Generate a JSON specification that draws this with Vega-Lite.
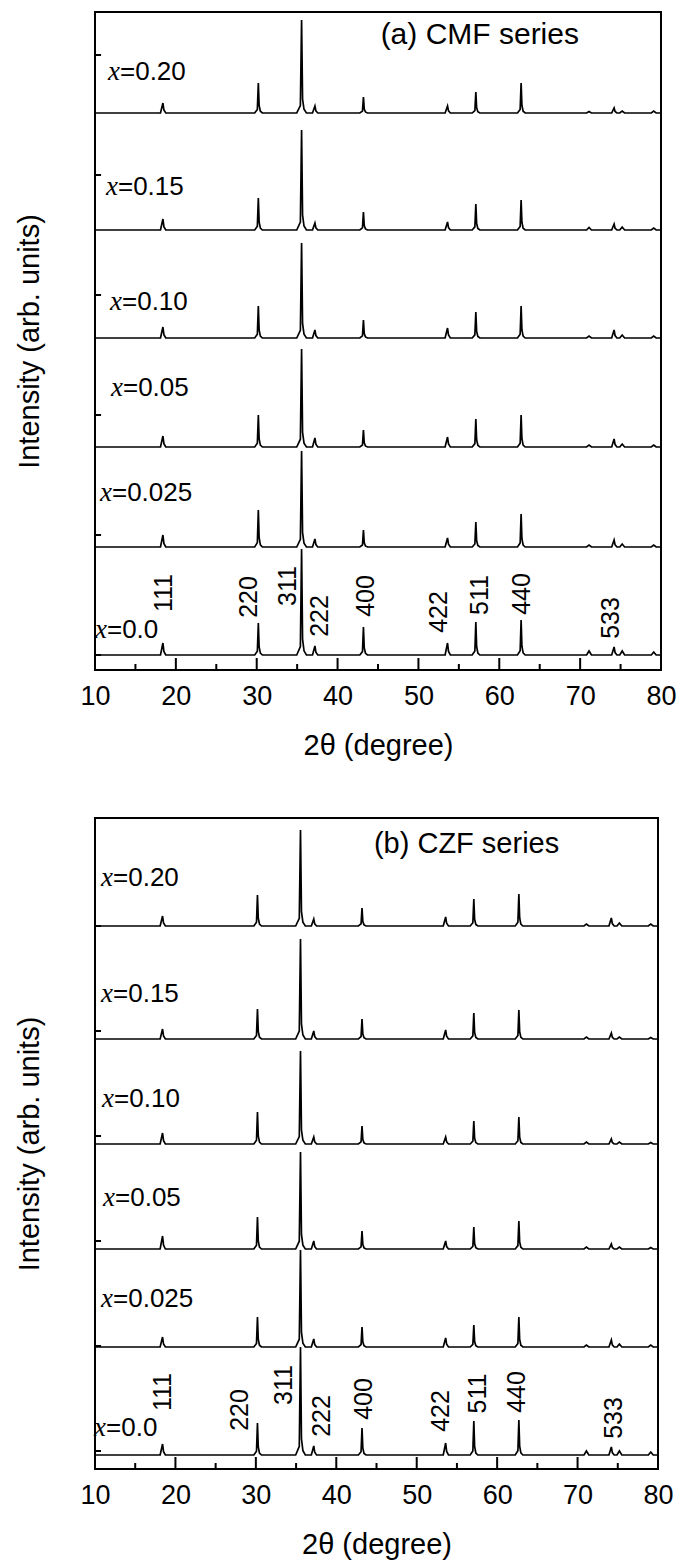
{
"$schema":"https://vega.github.io/schema/vega-lite/v6.json",
"background":"white",
"padding":{"left":14,"top":11,"right":10,"bottom":4},
"spacing":56,
"datasets":{
"a":[
{"s":"0.20","t":10,"I":557},{"s":"0.20","t":18.1,"I":557},{"s":"0.20","t":18.4,"I":567},{"s":"0.20","t":18.52,"I":560},{"s":"0.20","t":18.75,"I":557},{"s":"0.20","t":29.75,"I":557},{"s":"0.20","t":30.08,"I":560.6},{"s":"0.20","t":30.2,"I":587},{"s":"0.20","t":30.3,"I":564.5},{"s":"0.20","t":30.45,"I":558.8},{"s":"0.20","t":30.7,"I":557},{"s":"0.20","t":34.95,"I":557},{"s":"0.20","t":35.4,"I":564.4},{"s":"0.20","t":35.55,"I":650},{"s":"0.20","t":35.67,"I":571},{"s":"0.20","t":35.85,"I":560.7},{"s":"0.20","t":36.15,"I":557},{"s":"0.20","t":36.9,"I":557},{"s":"0.20","t":37.2,"I":564},{"s":"0.20","t":37.32,"I":559.1},{"s":"0.20","t":37.55,"I":557},{"s":"0.20","t":42.75,"I":557},{"s":"0.20","t":43.08,"I":558.9},{"s":"0.20","t":43.2,"I":573},{"s":"0.20","t":43.3,"I":561},{"s":"0.20","t":43.45,"I":558},{"s":"0.20","t":43.7,"I":557},{"s":"0.20","t":53.3,"I":557},{"s":"0.20","t":53.6,"I":564},{"s":"0.20","t":53.72,"I":559.1},{"s":"0.20","t":53.95,"I":557},{"s":"0.20","t":56.65,"I":557},{"s":"0.20","t":56.98,"I":559.5},{"s":"0.20","t":57.1,"I":578},{"s":"0.20","t":57.2,"I":562.3},{"s":"0.20","t":57.35,"I":558.3},{"s":"0.20","t":57.6,"I":557},{"s":"0.20","t":62.25,"I":557},{"s":"0.20","t":62.58,"I":560.6},{"s":"0.20","t":62.7,"I":587},{"s":"0.20","t":62.8,"I":564.5},{"s":"0.20","t":62.95,"I":558.8},{"s":"0.20","t":63.2,"I":557},{"s":"0.20","t":70.8,"I":557},{"s":"0.20","t":71.1,"I":558.5},{"s":"0.20","t":71.4,"I":557},{"s":"0.20","t":73.9,"I":557},{"s":"0.20","t":74.2,"I":562},{"s":"0.20","t":74.32,"I":558.5},{"s":"0.20","t":74.55,"I":557},{"s":"0.20","t":74.9,"I":557},{"s":"0.20","t":75.2,"I":559},{"s":"0.20","t":75.5,"I":557},{"s":"0.20","t":78.8,"I":557},{"s":"0.20","t":79.1,"I":559},{"s":"0.20","t":79.4,"I":557},{"s":"0.20","t":80,"I":557},
{"s":"0.15","t":10,"I":440},{"s":"0.15","t":18.1,"I":440},{"s":"0.15","t":18.4,"I":451},{"s":"0.15","t":18.52,"I":443.3},{"s":"0.15","t":18.75,"I":440},{"s":"0.15","t":29.75,"I":440},{"s":"0.15","t":30.08,"I":443.8},{"s":"0.15","t":30.2,"I":472},{"s":"0.15","t":30.3,"I":448},{"s":"0.15","t":30.45,"I":441.9},{"s":"0.15","t":30.7,"I":440},{"s":"0.15","t":34.95,"I":440},{"s":"0.15","t":35.4,"I":448},{"s":"0.15","t":35.55,"I":540},{"s":"0.15","t":35.67,"I":455},{"s":"0.15","t":35.85,"I":444},{"s":"0.15","t":36.15,"I":440},{"s":"0.15","t":36.9,"I":440},{"s":"0.15","t":37.2,"I":447},{"s":"0.15","t":37.32,"I":442.1},{"s":"0.15","t":37.55,"I":440},{"s":"0.15","t":42.75,"I":440},{"s":"0.15","t":43.08,"I":442.2},{"s":"0.15","t":43.2,"I":458},{"s":"0.15","t":43.3,"I":444.5},{"s":"0.15","t":43.45,"I":441.1},{"s":"0.15","t":43.7,"I":440},{"s":"0.15","t":53.3,"I":440},{"s":"0.15","t":53.6,"I":448},{"s":"0.15","t":53.72,"I":442.4},{"s":"0.15","t":53.95,"I":440},{"s":"0.15","t":56.65,"I":440},{"s":"0.15","t":56.98,"I":443.1},{"s":"0.15","t":57.1,"I":466},{"s":"0.15","t":57.2,"I":446.5},{"s":"0.15","t":57.35,"I":441.6},{"s":"0.15","t":57.6,"I":440},{"s":"0.15","t":62.25,"I":440},{"s":"0.15","t":62.58,"I":443.6},{"s":"0.15","t":62.7,"I":470},{"s":"0.15","t":62.8,"I":447.5},{"s":"0.15","t":62.95,"I":441.8},{"s":"0.15","t":63.2,"I":440},{"s":"0.15","t":70.8,"I":440},{"s":"0.15","t":71.1,"I":442.5},{"s":"0.15","t":71.4,"I":440},{"s":"0.15","t":73.9,"I":440},{"s":"0.15","t":74.2,"I":446},{"s":"0.15","t":74.32,"I":441.8},{"s":"0.15","t":74.55,"I":440},{"s":"0.15","t":74.9,"I":440},{"s":"0.15","t":75.2,"I":443},{"s":"0.15","t":75.5,"I":440},{"s":"0.15","t":78.8,"I":440},{"s":"0.15","t":79.1,"I":442},{"s":"0.15","t":79.4,"I":440},{"s":"0.15","t":80,"I":440},
{"s":"0.10","t":10,"I":332},{"s":"0.10","t":18.1,"I":332},{"s":"0.10","t":18.4,"I":343},{"s":"0.10","t":18.52,"I":335.3},{"s":"0.10","t":18.75,"I":332},{"s":"0.10","t":29.75,"I":332},{"s":"0.10","t":30.08,"I":335.8},{"s":"0.10","t":30.2,"I":364},{"s":"0.10","t":30.3,"I":340},{"s":"0.10","t":30.45,"I":333.9},{"s":"0.10","t":30.7,"I":332},{"s":"0.10","t":34.95,"I":332},{"s":"0.10","t":35.4,"I":339.6},{"s":"0.10","t":35.55,"I":427},{"s":"0.10","t":35.67,"I":346.3},{"s":"0.10","t":35.85,"I":335.8},{"s":"0.10","t":36.15,"I":332},{"s":"0.10","t":36.9,"I":332},{"s":"0.10","t":37.2,"I":340},{"s":"0.10","t":37.32,"I":334.4},{"s":"0.10","t":37.55,"I":332},{"s":"0.10","t":42.75,"I":332},{"s":"0.10","t":43.08,"I":334.2},{"s":"0.10","t":43.2,"I":350},{"s":"0.10","t":43.3,"I":336.5},{"s":"0.10","t":43.45,"I":333.1},{"s":"0.10","t":43.7,"I":332},{"s":"0.10","t":53.3,"I":332},{"s":"0.10","t":53.6,"I":342},{"s":"0.10","t":53.72,"I":335},{"s":"0.10","t":53.95,"I":332},{"s":"0.10","t":56.65,"I":332},{"s":"0.10","t":56.98,"I":335.1},{"s":"0.10","t":57.1,"I":358},{"s":"0.10","t":57.2,"I":338.5},{"s":"0.10","t":57.35,"I":333.6},{"s":"0.10","t":57.6,"I":332},{"s":"0.10","t":62.25,"I":332},{"s":"0.10","t":62.58,"I":335.8},{"s":"0.10","t":62.7,"I":364},{"s":"0.10","t":62.8,"I":340},{"s":"0.10","t":62.95,"I":333.9},{"s":"0.10","t":63.2,"I":332},{"s":"0.10","t":70.8,"I":332},{"s":"0.10","t":71.1,"I":334},{"s":"0.10","t":71.4,"I":332},{"s":"0.10","t":73.9,"I":332},{"s":"0.10","t":74.2,"I":340},{"s":"0.10","t":74.32,"I":334.4},{"s":"0.10","t":74.55,"I":332},{"s":"0.10","t":74.9,"I":332},{"s":"0.10","t":75.2,"I":335},{"s":"0.10","t":75.5,"I":332},{"s":"0.10","t":78.8,"I":332},{"s":"0.10","t":79.1,"I":334},{"s":"0.10","t":79.4,"I":332},{"s":"0.10","t":80,"I":332},
{"s":"0.05","t":10,"I":223},{"s":"0.05","t":18.1,"I":223},{"s":"0.05","t":18.4,"I":234},{"s":"0.05","t":18.52,"I":226.3},{"s":"0.05","t":18.75,"I":223},{"s":"0.05","t":29.75,"I":223},{"s":"0.05","t":30.08,"I":226.8},{"s":"0.05","t":30.2,"I":255},{"s":"0.05","t":30.3,"I":231},{"s":"0.05","t":30.45,"I":224.9},{"s":"0.05","t":30.7,"I":223},{"s":"0.05","t":34.95,"I":223},{"s":"0.05","t":35.4,"I":230.8},{"s":"0.05","t":35.55,"I":321},{"s":"0.05","t":35.67,"I":237.7},{"s":"0.05","t":35.85,"I":226.9},{"s":"0.05","t":36.15,"I":223},{"s":"0.05","t":36.9,"I":223},{"s":"0.05","t":37.2,"I":232},{"s":"0.05","t":37.32,"I":225.7},{"s":"0.05","t":37.55,"I":223},{"s":"0.05","t":42.75,"I":223},{"s":"0.05","t":43.08,"I":225},{"s":"0.05","t":43.2,"I":240},{"s":"0.05","t":43.3,"I":227.3},{"s":"0.05","t":43.45,"I":224},{"s":"0.05","t":43.7,"I":223},{"s":"0.05","t":53.3,"I":223},{"s":"0.05","t":53.6,"I":233},{"s":"0.05","t":53.72,"I":226},{"s":"0.05","t":53.95,"I":223},{"s":"0.05","t":56.65,"I":223},{"s":"0.05","t":56.98,"I":226.4},{"s":"0.05","t":57.1,"I":251},{"s":"0.05","t":57.2,"I":230},{"s":"0.05","t":57.35,"I":224.7},{"s":"0.05","t":57.6,"I":223},{"s":"0.05","t":62.25,"I":223},{"s":"0.05","t":62.58,"I":226.8},{"s":"0.05","t":62.7,"I":255},{"s":"0.05","t":62.8,"I":231},{"s":"0.05","t":62.95,"I":224.9},{"s":"0.05","t":63.2,"I":223},{"s":"0.05","t":70.8,"I":223},{"s":"0.05","t":71.1,"I":225},{"s":"0.05","t":71.4,"I":223},{"s":"0.05","t":73.9,"I":223},{"s":"0.05","t":74.2,"I":231},{"s":"0.05","t":74.32,"I":225.4},{"s":"0.05","t":74.55,"I":223},{"s":"0.05","t":74.9,"I":223},{"s":"0.05","t":75.2,"I":226},{"s":"0.05","t":75.5,"I":223},{"s":"0.05","t":78.8,"I":223},{"s":"0.05","t":79.1,"I":225},{"s":"0.05","t":79.4,"I":223},{"s":"0.05","t":80,"I":223},
{"s":"0.025","t":10,"I":123},{"s":"0.025","t":18.1,"I":123},{"s":"0.025","t":18.4,"I":135},{"s":"0.025","t":18.52,"I":126.6},{"s":"0.025","t":18.75,"I":123},{"s":"0.025","t":29.75,"I":123},{"s":"0.025","t":30.08,"I":127.4},{"s":"0.025","t":30.2,"I":160},{"s":"0.025","t":30.3,"I":132.3},{"s":"0.025","t":30.45,"I":125.2},{"s":"0.025","t":30.7,"I":123},{"s":"0.025","t":34.95,"I":123},{"s":"0.025","t":35.4,"I":130.7},{"s":"0.025","t":35.55,"I":219},{"s":"0.025","t":35.67,"I":137.4},{"s":"0.025","t":35.85,"I":126.8},{"s":"0.025","t":36.15,"I":123},{"s":"0.025","t":36.9,"I":123},{"s":"0.025","t":37.2,"I":131},{"s":"0.025","t":37.32,"I":125.4},{"s":"0.025","t":37.55,"I":123},{"s":"0.025","t":42.75,"I":123},{"s":"0.025","t":43.08,"I":125},{"s":"0.025","t":43.2,"I":140},{"s":"0.025","t":43.3,"I":127.3},{"s":"0.025","t":43.45,"I":124},{"s":"0.025","t":43.7,"I":123},{"s":"0.025","t":53.3,"I":123},{"s":"0.025","t":53.6,"I":132},{"s":"0.025","t":53.72,"I":125.7},{"s":"0.025","t":53.95,"I":123},{"s":"0.025","t":56.65,"I":123},{"s":"0.025","t":56.98,"I":126},{"s":"0.025","t":57.1,"I":148},{"s":"0.025","t":57.2,"I":129.3},{"s":"0.025","t":57.35,"I":124.5},{"s":"0.025","t":57.6,"I":123},{"s":"0.025","t":62.25,"I":123},{"s":"0.025","t":62.58,"I":127},{"s":"0.025","t":62.7,"I":156},{"s":"0.025","t":62.8,"I":131.3},{"s":"0.025","t":62.95,"I":125},{"s":"0.025","t":63.2,"I":123},{"s":"0.025","t":70.8,"I":123},{"s":"0.025","t":71.1,"I":125},{"s":"0.025","t":71.4,"I":123},{"s":"0.025","t":73.9,"I":123},{"s":"0.025","t":74.2,"I":130},{"s":"0.025","t":74.32,"I":125.1},{"s":"0.025","t":74.55,"I":123},{"s":"0.025","t":74.9,"I":123},{"s":"0.025","t":75.2,"I":126},{"s":"0.025","t":75.5,"I":123},{"s":"0.025","t":78.8,"I":123},{"s":"0.025","t":79.1,"I":125},{"s":"0.025","t":79.4,"I":123},{"s":"0.025","t":80,"I":123},
{"s":"0.0","t":10,"I":15},{"s":"0.0","t":18.1,"I":15},{"s":"0.0","t":18.4,"I":27},{"s":"0.0","t":18.52,"I":18.6},{"s":"0.0","t":18.75,"I":15},{"s":"0.0","t":29.75,"I":15},{"s":"0.0","t":30.08,"I":18.8},{"s":"0.0","t":30.2,"I":47},{"s":"0.0","t":30.3,"I":23},{"s":"0.0","t":30.45,"I":16.9},{"s":"0.0","t":30.7,"I":15},{"s":"0.0","t":34.95,"I":15},{"s":"0.0","t":35.4,"I":23.5},{"s":"0.0","t":35.55,"I":121},{"s":"0.0","t":35.67,"I":30.9},{"s":"0.0","t":35.85,"I":19.2},{"s":"0.0","t":36.15,"I":15},{"s":"0.0","t":36.9,"I":15},{"s":"0.0","t":37.2,"I":24},{"s":"0.0","t":37.32,"I":17.7},{"s":"0.0","t":37.55,"I":15},{"s":"0.0","t":42.75,"I":15},{"s":"0.0","t":43.08,"I":18.4},{"s":"0.0","t":43.2,"I":43},{"s":"0.0","t":43.3,"I":22},{"s":"0.0","t":43.45,"I":16.7},{"s":"0.0","t":43.7,"I":15},{"s":"0.0","t":53.3,"I":15},{"s":"0.0","t":53.6,"I":27},{"s":"0.0","t":53.72,"I":18.6},{"s":"0.0","t":53.95,"I":15},{"s":"0.0","t":56.65,"I":15},{"s":"0.0","t":56.98,"I":19},{"s":"0.0","t":57.1,"I":48},{"s":"0.0","t":57.2,"I":23.3},{"s":"0.0","t":57.35,"I":17},{"s":"0.0","t":57.6,"I":15},{"s":"0.0","t":62.25,"I":15},{"s":"0.0","t":62.58,"I":19.2},{"s":"0.0","t":62.7,"I":50},{"s":"0.0","t":62.8,"I":23.8},{"s":"0.0","t":62.95,"I":17.1},{"s":"0.0","t":63.2,"I":15},{"s":"0.0","t":70.8,"I":15},{"s":"0.0","t":71.1,"I":19},{"s":"0.0","t":71.4,"I":15},{"s":"0.0","t":73.9,"I":15},{"s":"0.0","t":74.2,"I":23},{"s":"0.0","t":74.32,"I":17.4},{"s":"0.0","t":74.55,"I":15},{"s":"0.0","t":74.9,"I":15},{"s":"0.0","t":75.2,"I":19},{"s":"0.0","t":75.5,"I":15},{"s":"0.0","t":78.8,"I":15},{"s":"0.0","t":79.1,"I":18},{"s":"0.0","t":79.4,"I":15},{"s":"0.0","t":80,"I":15}
],
"b":[
{"s":"0.20","t":10,"I":543},{"s":"0.20","t":18.1,"I":543},{"s":"0.20","t":18.4,"I":553},{"s":"0.20","t":18.52,"I":546},{"s":"0.20","t":18.75,"I":543},{"s":"0.20","t":29.75,"I":543},{"s":"0.20","t":30.08,"I":546.7},{"s":"0.20","t":30.2,"I":574},{"s":"0.20","t":30.3,"I":550.8},{"s":"0.20","t":30.45,"I":544.9},{"s":"0.20","t":30.7,"I":543},{"s":"0.20","t":34.95,"I":543},{"s":"0.20","t":35.4,"I":550.7},{"s":"0.20","t":35.55,"I":639},{"s":"0.20","t":35.67,"I":557.4},{"s":"0.20","t":35.85,"I":546.8},{"s":"0.20","t":36.15,"I":543},{"s":"0.20","t":36.9,"I":543},{"s":"0.20","t":37.2,"I":550},{"s":"0.20","t":37.32,"I":545.1},{"s":"0.20","t":37.55,"I":543},{"s":"0.20","t":42.75,"I":543},{"s":"0.20","t":43.08,"I":545.2},{"s":"0.20","t":43.2,"I":561},{"s":"0.20","t":43.3,"I":547.5},{"s":"0.20","t":43.45,"I":544.1},{"s":"0.20","t":43.7,"I":543},{"s":"0.20","t":53.3,"I":543},{"s":"0.20","t":53.6,"I":552},{"s":"0.20","t":53.72,"I":545.7},{"s":"0.20","t":53.95,"I":543},{"s":"0.20","t":56.65,"I":543},{"s":"0.20","t":56.98,"I":546.2},{"s":"0.20","t":57.1,"I":570},{"s":"0.20","t":57.2,"I":549.8},{"s":"0.20","t":57.35,"I":544.6},{"s":"0.20","t":57.6,"I":543},{"s":"0.20","t":62.25,"I":543},{"s":"0.20","t":62.58,"I":546.8},{"s":"0.20","t":62.7,"I":575},{"s":"0.20","t":62.8,"I":551},{"s":"0.20","t":62.95,"I":544.9},{"s":"0.20","t":63.2,"I":543},{"s":"0.20","t":70.8,"I":543},{"s":"0.20","t":71.1,"I":545},{"s":"0.20","t":71.4,"I":543},{"s":"0.20","t":73.9,"I":543},{"s":"0.20","t":74.2,"I":551},{"s":"0.20","t":74.32,"I":545.4},{"s":"0.20","t":74.55,"I":543},{"s":"0.20","t":74.9,"I":543},{"s":"0.20","t":75.2,"I":546},{"s":"0.20","t":75.5,"I":543},{"s":"0.20","t":78.8,"I":543},{"s":"0.20","t":79.1,"I":545},{"s":"0.20","t":79.4,"I":543},{"s":"0.20","t":80,"I":543},
{"s":"0.15","t":10,"I":430},{"s":"0.15","t":18.1,"I":430},{"s":"0.15","t":18.4,"I":440},{"s":"0.15","t":18.52,"I":433},{"s":"0.15","t":18.75,"I":430},{"s":"0.15","t":29.75,"I":430},{"s":"0.15","t":30.08,"I":433.6},{"s":"0.15","t":30.2,"I":460},{"s":"0.15","t":30.3,"I":437.5},{"s":"0.15","t":30.45,"I":431.8},{"s":"0.15","t":30.7,"I":430},{"s":"0.15","t":34.95,"I":430},{"s":"0.15","t":35.4,"I":438},{"s":"0.15","t":35.55,"I":530},{"s":"0.15","t":35.67,"I":445},{"s":"0.15","t":35.85,"I":434},{"s":"0.15","t":36.15,"I":430},{"s":"0.15","t":36.9,"I":430},{"s":"0.15","t":37.2,"I":438},{"s":"0.15","t":37.32,"I":432.4},{"s":"0.15","t":37.55,"I":430},{"s":"0.15","t":42.75,"I":430},{"s":"0.15","t":43.08,"I":432.4},{"s":"0.15","t":43.2,"I":450},{"s":"0.15","t":43.3,"I":435},{"s":"0.15","t":43.45,"I":431.2},{"s":"0.15","t":43.7,"I":430},{"s":"0.15","t":53.3,"I":430},{"s":"0.15","t":53.6,"I":439},{"s":"0.15","t":53.72,"I":432.7},{"s":"0.15","t":53.95,"I":430},{"s":"0.15","t":56.65,"I":430},{"s":"0.15","t":56.98,"I":433.1},{"s":"0.15","t":57.1,"I":456},{"s":"0.15","t":57.2,"I":436.5},{"s":"0.15","t":57.35,"I":431.6},{"s":"0.15","t":57.6,"I":430},{"s":"0.15","t":62.25,"I":430},{"s":"0.15","t":62.58,"I":433.5},{"s":"0.15","t":62.7,"I":459},{"s":"0.15","t":62.8,"I":437.3},{"s":"0.15","t":62.95,"I":431.7},{"s":"0.15","t":63.2,"I":430},{"s":"0.15","t":70.8,"I":430},{"s":"0.15","t":71.1,"I":432},{"s":"0.15","t":71.4,"I":430},{"s":"0.15","t":73.9,"I":430},{"s":"0.15","t":74.2,"I":436},{"s":"0.15","t":74.32,"I":431.8},{"s":"0.15","t":74.55,"I":430},{"s":"0.15","t":74.9,"I":430},{"s":"0.15","t":75.2,"I":432},{"s":"0.15","t":75.5,"I":430},{"s":"0.15","t":78.8,"I":430},{"s":"0.15","t":79.1,"I":431.5},{"s":"0.15","t":79.4,"I":430},{"s":"0.15","t":80,"I":430},
{"s":"0.10","t":10,"I":325},{"s":"0.10","t":18.1,"I":325},{"s":"0.10","t":18.4,"I":336},{"s":"0.10","t":18.52,"I":328.3},{"s":"0.10","t":18.75,"I":325},{"s":"0.10","t":29.75,"I":325},{"s":"0.10","t":30.08,"I":328.8},{"s":"0.10","t":30.2,"I":357},{"s":"0.10","t":30.3,"I":333},{"s":"0.10","t":30.45,"I":326.9},{"s":"0.10","t":30.7,"I":325},{"s":"0.10","t":34.95,"I":325},{"s":"0.10","t":35.4,"I":332.4},{"s":"0.10","t":35.55,"I":418},{"s":"0.10","t":35.67,"I":339},{"s":"0.10","t":35.85,"I":328.7},{"s":"0.10","t":36.15,"I":325},{"s":"0.10","t":36.9,"I":325},{"s":"0.10","t":37.2,"I":332},{"s":"0.10","t":37.32,"I":327.1},{"s":"0.10","t":37.55,"I":325},{"s":"0.10","t":42.75,"I":325},{"s":"0.10","t":43.08,"I":327.2},{"s":"0.10","t":43.2,"I":343},{"s":"0.10","t":43.3,"I":329.5},{"s":"0.10","t":43.45,"I":326.1},{"s":"0.10","t":43.7,"I":325},{"s":"0.10","t":53.3,"I":325},{"s":"0.10","t":53.6,"I":332},{"s":"0.10","t":53.72,"I":327.1},{"s":"0.10","t":53.95,"I":325},{"s":"0.10","t":56.65,"I":325},{"s":"0.10","t":56.98,"I":327.8},{"s":"0.10","t":57.1,"I":348},{"s":"0.10","t":57.2,"I":330.8},{"s":"0.10","t":57.35,"I":326.4},{"s":"0.10","t":57.6,"I":325},{"s":"0.10","t":62.25,"I":325},{"s":"0.10","t":62.58,"I":328.2},{"s":"0.10","t":62.7,"I":352},{"s":"0.10","t":62.8,"I":331.8},{"s":"0.10","t":62.95,"I":326.6},{"s":"0.10","t":63.2,"I":325},{"s":"0.10","t":70.8,"I":325},{"s":"0.10","t":71.1,"I":327},{"s":"0.10","t":71.4,"I":325},{"s":"0.10","t":73.9,"I":325},{"s":"0.10","t":74.2,"I":330},{"s":"0.10","t":74.32,"I":326.5},{"s":"0.10","t":74.55,"I":325},{"s":"0.10","t":74.9,"I":325},{"s":"0.10","t":75.2,"I":327},{"s":"0.10","t":75.5,"I":325},{"s":"0.10","t":78.8,"I":325},{"s":"0.10","t":79.1,"I":326.5},{"s":"0.10","t":79.4,"I":325},{"s":"0.10","t":80,"I":325},
{"s":"0.05","t":10,"I":220},{"s":"0.05","t":18.1,"I":220},{"s":"0.05","t":18.4,"I":233},{"s":"0.05","t":18.52,"I":223.9},{"s":"0.05","t":18.75,"I":220},{"s":"0.05","t":29.75,"I":220},{"s":"0.05","t":30.08,"I":223.8},{"s":"0.05","t":30.2,"I":252},{"s":"0.05","t":30.3,"I":228},{"s":"0.05","t":30.45,"I":221.9},{"s":"0.05","t":30.7,"I":220},{"s":"0.05","t":34.95,"I":220},{"s":"0.05","t":35.4,"I":227.8},{"s":"0.05","t":35.55,"I":317},{"s":"0.05","t":35.67,"I":234.6},{"s":"0.05","t":35.85,"I":223.9},{"s":"0.05","t":36.15,"I":220},{"s":"0.05","t":36.9,"I":220},{"s":"0.05","t":37.2,"I":228},{"s":"0.05","t":37.32,"I":222.4},{"s":"0.05","t":37.55,"I":220},{"s":"0.05","t":42.75,"I":220},{"s":"0.05","t":43.08,"I":222.2},{"s":"0.05","t":43.2,"I":238},{"s":"0.05","t":43.3,"I":224.5},{"s":"0.05","t":43.45,"I":221.1},{"s":"0.05","t":43.7,"I":220},{"s":"0.05","t":53.3,"I":220},{"s":"0.05","t":53.6,"I":228},{"s":"0.05","t":53.72,"I":222.4},{"s":"0.05","t":53.95,"I":220},{"s":"0.05","t":56.65,"I":220},{"s":"0.05","t":56.98,"I":222.6},{"s":"0.05","t":57.1,"I":242},{"s":"0.05","t":57.2,"I":225.5},{"s":"0.05","t":57.35,"I":221.3},{"s":"0.05","t":57.6,"I":220},{"s":"0.05","t":62.25,"I":220},{"s":"0.05","t":62.58,"I":223.4},{"s":"0.05","t":62.7,"I":248},{"s":"0.05","t":62.8,"I":227},{"s":"0.05","t":62.95,"I":221.7},{"s":"0.05","t":63.2,"I":220},{"s":"0.05","t":70.8,"I":220},{"s":"0.05","t":71.1,"I":222},{"s":"0.05","t":71.4,"I":220},{"s":"0.05","t":73.9,"I":220},{"s":"0.05","t":74.2,"I":225},{"s":"0.05","t":74.32,"I":221.5},{"s":"0.05","t":74.55,"I":220},{"s":"0.05","t":74.9,"I":220},{"s":"0.05","t":75.2,"I":222},{"s":"0.05","t":75.5,"I":220},{"s":"0.05","t":78.8,"I":220},{"s":"0.05","t":79.1,"I":221.5},{"s":"0.05","t":79.4,"I":220},{"s":"0.05","t":80,"I":220},
{"s":"0.025","t":10,"I":122},{"s":"0.025","t":18.1,"I":122},{"s":"0.025","t":18.4,"I":132},{"s":"0.025","t":18.52,"I":125},{"s":"0.025","t":18.75,"I":122},{"s":"0.025","t":29.75,"I":122},{"s":"0.025","t":30.08,"I":125.6},{"s":"0.025","t":30.2,"I":152},{"s":"0.025","t":30.3,"I":129.5},{"s":"0.025","t":30.45,"I":123.8},{"s":"0.025","t":30.7,"I":122},{"s":"0.025","t":34.95,"I":122},{"s":"0.025","t":35.4,"I":129.8},{"s":"0.025","t":35.55,"I":219},{"s":"0.025","t":35.67,"I":136.6},{"s":"0.025","t":35.85,"I":125.9},{"s":"0.025","t":36.15,"I":122},{"s":"0.025","t":36.9,"I":122},{"s":"0.025","t":37.2,"I":130},{"s":"0.025","t":37.32,"I":124.4},{"s":"0.025","t":37.55,"I":122},{"s":"0.025","t":42.75,"I":122},{"s":"0.025","t":43.08,"I":124.4},{"s":"0.025","t":43.2,"I":142},{"s":"0.025","t":43.3,"I":127},{"s":"0.025","t":43.45,"I":123.2},{"s":"0.025","t":43.7,"I":122},{"s":"0.025","t":53.3,"I":122},{"s":"0.025","t":53.6,"I":131},{"s":"0.025","t":53.72,"I":124.7},{"s":"0.025","t":53.95,"I":122},{"s":"0.025","t":56.65,"I":122},{"s":"0.025","t":56.98,"I":124.6},{"s":"0.025","t":57.1,"I":144},{"s":"0.025","t":57.2,"I":127.5},{"s":"0.025","t":57.35,"I":123.3},{"s":"0.025","t":57.6,"I":122},{"s":"0.025","t":62.25,"I":122},{"s":"0.025","t":62.58,"I":125.6},{"s":"0.025","t":62.7,"I":152},{"s":"0.025","t":62.8,"I":129.5},{"s":"0.025","t":62.95,"I":123.8},{"s":"0.025","t":63.2,"I":122},{"s":"0.025","t":70.8,"I":122},{"s":"0.025","t":71.1,"I":124},{"s":"0.025","t":71.4,"I":122},{"s":"0.025","t":73.9,"I":122},{"s":"0.025","t":74.2,"I":129},{"s":"0.025","t":74.32,"I":124.1},{"s":"0.025","t":74.55,"I":122},{"s":"0.025","t":74.9,"I":122},{"s":"0.025","t":75.2,"I":125},{"s":"0.025","t":75.5,"I":122},{"s":"0.025","t":78.8,"I":122},{"s":"0.025","t":79.1,"I":124},{"s":"0.025","t":79.4,"I":122},{"s":"0.025","t":80,"I":122},
{"s":"0.0","t":10,"I":14},{"s":"0.0","t":18.1,"I":14},{"s":"0.0","t":18.4,"I":25},{"s":"0.0","t":18.52,"I":17.3},{"s":"0.0","t":18.75,"I":14},{"s":"0.0","t":29.75,"I":14},{"s":"0.0","t":30.08,"I":17.8},{"s":"0.0","t":30.2,"I":46},{"s":"0.0","t":30.3,"I":22},{"s":"0.0","t":30.45,"I":15.9},{"s":"0.0","t":30.7,"I":14},{"s":"0.0","t":34.95,"I":14},{"s":"0.0","t":35.4,"I":22.6},{"s":"0.0","t":35.55,"I":122},{"s":"0.0","t":35.67,"I":30.2},{"s":"0.0","t":35.85,"I":18.3},{"s":"0.0","t":36.15,"I":14},{"s":"0.0","t":36.9,"I":14},{"s":"0.0","t":37.2,"I":23},{"s":"0.0","t":37.32,"I":16.7},{"s":"0.0","t":37.55,"I":14},{"s":"0.0","t":42.75,"I":14},{"s":"0.0","t":43.08,"I":17.2},{"s":"0.0","t":43.2,"I":41},{"s":"0.0","t":43.3,"I":20.8},{"s":"0.0","t":43.45,"I":15.6},{"s":"0.0","t":43.7,"I":14},{"s":"0.0","t":53.3,"I":14},{"s":"0.0","t":53.6,"I":26},{"s":"0.0","t":53.72,"I":17.6},{"s":"0.0","t":53.95,"I":14},{"s":"0.0","t":56.65,"I":14},{"s":"0.0","t":56.98,"I":18.1},{"s":"0.0","t":57.1,"I":48},{"s":"0.0","t":57.2,"I":22.5},{"s":"0.0","t":57.35,"I":16},{"s":"0.0","t":57.6,"I":14},{"s":"0.0","t":62.25,"I":14},{"s":"0.0","t":62.58,"I":18.2},{"s":"0.0","t":62.7,"I":49},{"s":"0.0","t":62.8,"I":22.8},{"s":"0.0","t":62.95,"I":16.1},{"s":"0.0","t":63.2,"I":14},{"s":"0.0","t":70.8,"I":14},{"s":"0.0","t":71.1,"I":18},{"s":"0.0","t":71.4,"I":14},{"s":"0.0","t":73.9,"I":14},{"s":"0.0","t":74.2,"I":22},{"s":"0.0","t":74.32,"I":16.4},{"s":"0.0","t":74.55,"I":14},{"s":"0.0","t":74.9,"I":14},{"s":"0.0","t":75.2,"I":18},{"s":"0.0","t":75.5,"I":14},{"s":"0.0","t":78.8,"I":14},{"s":"0.0","t":79.1,"I":17},{"s":"0.0","t":79.4,"I":14},{"s":"0.0","t":80,"I":14}
],
"labA":[{"t":13.09,"I":598,"v":"=0.20"},{"t":12.84,"I":483,"v":"=0.15"},{"t":13.34,"I":368,"v":"=0.10"},{"t":13.46,"I":282,"v":"=0.05"},{"t":12.1,"I":177,"v":"=0.025"},{"t":11.48,"I":40,"v":"=0.0"}],
"labB":[{"t":12.24,"I":591,"v":"=0.20"},{"t":12.24,"I":475,"v":"=0.15"},{"t":12.37,"I":370,"v":"=0.10"},{"t":12.49,"I":271,"v":"=0.05"},{"t":12.24,"I":170,"v":"=0.025"},{"t":11.37,"I":41,"v":"=0.0"}],
"hklA":[{"t":18.57,"I":77,"h":"111"},{"t":29.07,"I":73,"h":"220"},{"t":33.82,"I":84,"h":"311"},{"t":37.85,"I":54,"h":"222"},{"t":43.5,"I":74,"h":"400"},{"t":52.56,"I":58,"h":"422"},{"t":57.63,"I":75,"h":"511"},{"t":62.87,"I":76,"h":"440"},{"t":73.87,"I":52,"h":"533"}],
"hklB":[{"t":18.51,"I":77,"h":"111"},{"t":28.06,"I":59,"h":"220"},{"t":33.54,"I":84,"h":"311"},{"t":38.23,"I":53,"h":"222"},{"t":43.5,"I":70,"h":"400"},{"t":52.96,"I":58,"h":"422"},{"t":57.66,"I":75.5,"h":"511"},{"t":62.43,"I":77,"h":"440"},{"t":74.47,"I":51,"h":"533"}],
"ttlA":[{"t":57.59,"I":635,"txt":"(a) CMF series"}],
"ttlB":[{"t":56.2,"I":625,"txt":"(b) CZF series"}],
"xMaj":[{"t":20},{"t":30},{"t":40},{"t":50},{"t":60},{"t":70}],
"xMin":[{"t":15},{"t":25},{"t":35},{"t":45},{"t":55},{"t":65},{"t":75}],
"yTkA":[{"I":15},{"I":135},{"I":255},{"I":375},{"I":495},{"I":615}],
"yTkB":[{"I":18},{"I":123},{"I":228},{"I":333},{"I":438},{"I":543}]
},
"vconcat":[
{
"width":566,"height":658,
"layer":[
{"data":{"name":"a"},"mark":{"type":"line","color":"black","strokeWidth":1.7},
"encoding":{
"x":{"field":"t","type":"quantitative","scale":{"domain":[10,80],"nice":false,"zero":false},
"axis":{"values":[10,20,30,40,50,60,70,80],"ticks":false,"domain":false,"grid":false,"labelFontSize":27,"labelPadding":13,"labelFlush":false,"labelFont":"Liberation Sans","labelColor":"black","title":"2θ (degree)","titleFont":"Liberation Sans","titleFontSize":29,"titleFontWeight":"normal","titleColor":"black","titlePadding":22}},
"y":{"field":"I","type":"quantitative","scale":{"domain":[0,658],"nice":false,"zero":false},
"axis":{"ticks":false,"labels":false,"domain":false,"grid":false,"title":"Intensity (arb. units)","titleFont":"Liberation Sans","titleFontSize":29,"titleFontWeight":"normal","titleColor":"black","titlePadding":51}},
"detail":{"field":"s","type":"nominal"}}},
{"data":{"name":"xMaj"},"mark":{"type":"rule","color":"black","strokeWidth":2},
"encoding":{"x":{"field":"t","type":"quantitative"},"y":{"datum":0},"y2":{"datum":12}}},
{"data":{"name":"xMin"},"mark":{"type":"rule","color":"black","strokeWidth":2},
"encoding":{"x":{"field":"t","type":"quantitative"},"y":{"datum":0},"y2":{"datum":6}}},
{"data":{"name":"yTkA"},"mark":{"type":"rule","color":"black","strokeWidth":2},
"encoding":{"y":{"field":"I","type":"quantitative"},"x":{"datum":10},"x2":{"datum":10.75}}},
{"data":{"name":"labA"},"mark":{"type":"text","text":"x","font":"Liberation Serif","fontStyle":"italic","fontSize":27,"align":"right","baseline":"middle","color":"black"},
"encoding":{"x":{"field":"t","type":"quantitative"},"y":{"field":"I","type":"quantitative"}}},
{"data":{"name":"labA"},"mark":{"type":"text","font":"Liberation Sans","fontSize":26,"align":"left","baseline":"middle","color":"black"},
"encoding":{"x":{"field":"t","type":"quantitative"},"y":{"field":"I","type":"quantitative"},"text":{"field":"v"}}},
{"data":{"name":"hklA"},"mark":{"type":"text","font":"Liberation Sans","fontSize":25,"angle":270,"align":"center","baseline":"middle","color":"black"},
"encoding":{"x":{"field":"t","type":"quantitative"},"y":{"field":"I","type":"quantitative"},"text":{"field":"h"}}},
{"data":{"name":"ttlA"},"mark":{"type":"text","font":"Liberation Sans","fontSize":30,"align":"center","baseline":"middle","color":"black"},
"encoding":{"x":{"field":"t","type":"quantitative"},"y":{"field":"I","type":"quantitative"},"text":{"field":"txt"}}}
]
},
{
"width":563,"height":651,
"layer":[
{"data":{"name":"b"},"mark":{"type":"line","color":"black","strokeWidth":1.7},
"encoding":{
"x":{"field":"t","type":"quantitative","scale":{"domain":[10,80],"nice":false,"zero":false},
"axis":{"values":[10,20,30,40,50,60,70,80],"ticks":false,"domain":false,"grid":false,"labelFontSize":27,"labelPadding":13,"labelFlush":false,"labelFont":"Liberation Sans","labelColor":"black","title":"2θ (degree)","titleFont":"Liberation Sans","titleFontSize":29,"titleFontWeight":"normal","titleColor":"black","titlePadding":22}},
"y":{"field":"I","type":"quantitative","scale":{"domain":[0,651],"nice":false,"zero":false},
"axis":{"ticks":false,"labels":false,"domain":false,"grid":false,"title":"Intensity (arb. units)","titleFont":"Liberation Sans","titleFontSize":29,"titleFontWeight":"normal","titleColor":"black","titlePadding":51}},
"detail":{"field":"s","type":"nominal"}}},
{"data":{"name":"xMaj"},"mark":{"type":"rule","color":"black","strokeWidth":2},
"encoding":{"x":{"field":"t","type":"quantitative"},"y":{"datum":0},"y2":{"datum":12}}},
{"data":{"name":"xMin"},"mark":{"type":"rule","color":"black","strokeWidth":2},
"encoding":{"x":{"field":"t","type":"quantitative"},"y":{"datum":0},"y2":{"datum":6}}},
{"data":{"name":"yTkB"},"mark":{"type":"rule","color":"black","strokeWidth":2},
"encoding":{"y":{"field":"I","type":"quantitative"},"x":{"datum":10},"x2":{"datum":10.75}}},
{"data":{"name":"labB"},"mark":{"type":"text","text":"x","font":"Liberation Serif","fontStyle":"italic","fontSize":27,"align":"right","baseline":"middle","color":"black"},
"encoding":{"x":{"field":"t","type":"quantitative"},"y":{"field":"I","type":"quantitative"}}},
{"data":{"name":"labB"},"mark":{"type":"text","font":"Liberation Sans","fontSize":26,"align":"left","baseline":"middle","color":"black"},
"encoding":{"x":{"field":"t","type":"quantitative"},"y":{"field":"I","type":"quantitative"},"text":{"field":"v"}}},
{"data":{"name":"hklB"},"mark":{"type":"text","font":"Liberation Sans","fontSize":25,"angle":270,"align":"center","baseline":"middle","color":"black"},
"encoding":{"x":{"field":"t","type":"quantitative"},"y":{"field":"I","type":"quantitative"},"text":{"field":"h"}}},
{"data":{"name":"ttlB"},"mark":{"type":"text","font":"Liberation Sans","fontSize":29,"align":"center","baseline":"middle","color":"black"},
"encoding":{"x":{"field":"t","type":"quantitative"},"y":{"field":"I","type":"quantitative"},"text":{"field":"txt"}}}
]
}
],
"config":{"view":{"stroke":"black","strokeWidth":2,"fill":"white"},"font":"Liberation Sans","axis":{"grid":false}}
}
